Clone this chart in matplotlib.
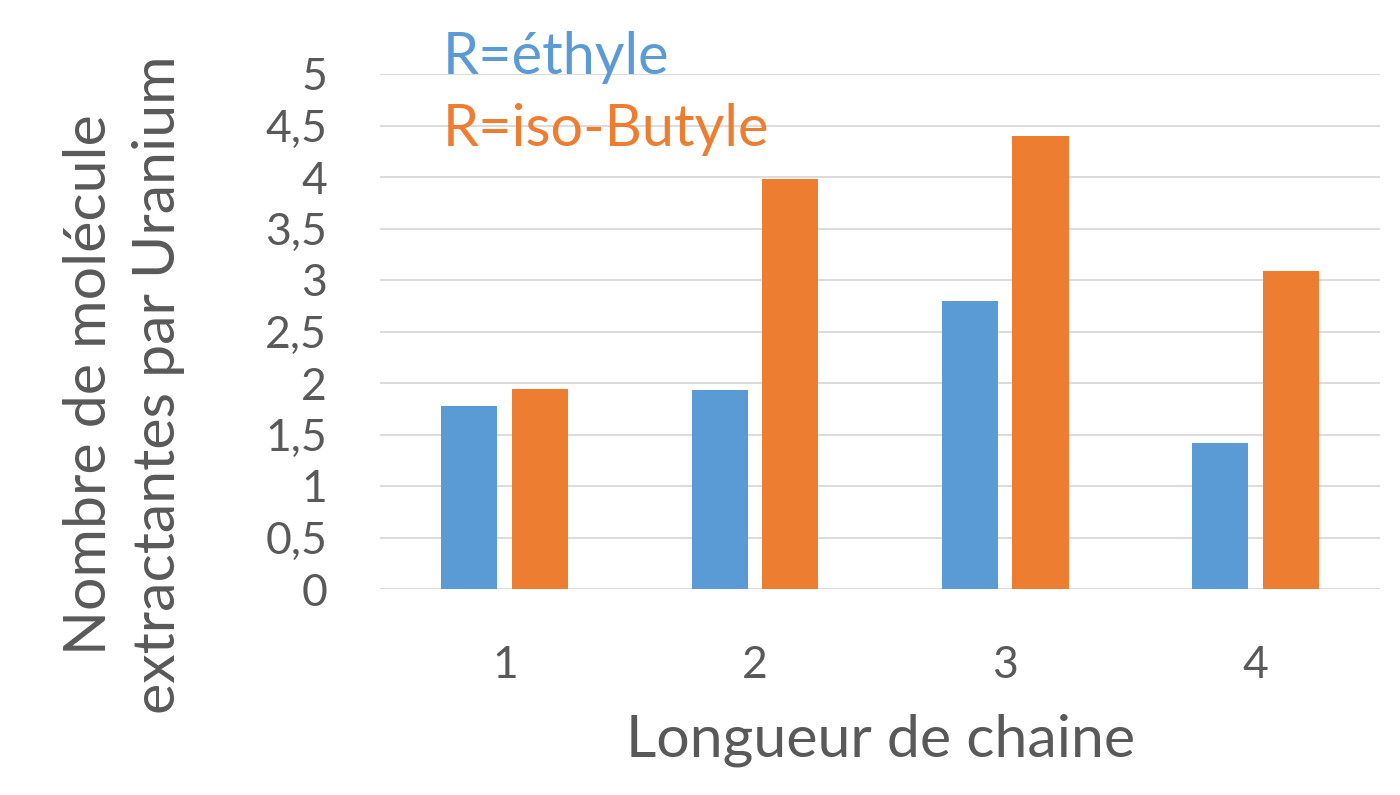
import matplotlib as mpl
mpl.use('Agg')
import matplotlib.pyplot as plt
import numpy as np

categories = ["1", "2", "3", "4"]
ethyle = [1.78, 1.93, 2.80, 1.42]
isobutyle = [1.94, 3.98, 4.40, 3.09]
yticks = [0, 0.5, 1, 1.5, 2, 2.5, 3, 3.5, 4, 4.5, 5]
ytick_labels = ["0", "0,5", "1", "1,5", "2", "2,5", "3", "3,5", "4", "4,5", "5"]

bleu = "#5b9bd5"
orange = "#ed7d31"
gris = "#595959"

plt.rcParams['font.family'] = ['Lato', 'DejaVu Sans']

fig = plt.figure(figsize=(14, 7.95), dpi=100)
ax = fig.add_axes([380/1400, 1-589/795, 1000/1400, (589-74)/795])

x = np.arange(len(categories))
w = 0.224
ax.bar(x - 0.142, ethyle, w, color=bleu, zorder=3)
ax.bar(x + 0.142, isobutyle, w, color=orange, zorder=3)

ax.set_xlim(-0.5, len(categories) - 0.5)
ax.set_ylim(0, 5)
ax.set_yticks(yticks)
ax.set_yticklabels(ytick_labels)
ax.set_xticks(x)
ax.set_xticklabels(categories)
ax.grid(axis='y', color="#d9d9d9", linewidth=1.3, zorder=0)
for s in ax.spines.values():
    s.set_visible(False)
ax.tick_params(axis='y', length=0, pad=38, labelsize=32, labelcolor=gris)
ax.tick_params(axis='x', length=0, pad=40, labelsize=32, labelcolor=gris)

fig.text(881/1400, 1-740/795, "Longueur de chaine", ha='center', va='center',
         fontsize=42.5, color=gris)
fig.text(124/1400, 1-385/795, "Nombre de molécule\nextractantes par Uranium",
         ha='center', va='center', rotation=90, fontsize=42.5, color=gris,
         multialignment='center', linespacing=1.38)

fig.text(443/1400, 1-57/795, "R=éthyle", ha='left', va='center', fontsize=41.5, color=bleu)
fig.text(443/1400, 1-130/795, "R=iso-Butyle", ha='left', va='center', fontsize=41.5, color=orange)

fig.savefig("out.png", dpi=100)
